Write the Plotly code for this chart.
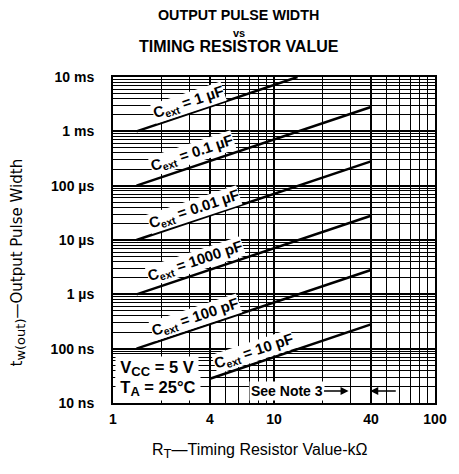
import plotly.graph_objects as go

# ---- data ----
curve_names = ["1 µF", "0.1 µF", "0.01 µF", "1000 pF", "100 pF", "10 pF"]
rt_1uF = [1.4, 14.0];   tw_1uF = [1.0e-3, 1.0e-2]
rt_01uF = [1.4, 40.0];  tw_01uF = [1.0e-4, 2.8e-3]
rt_001uF = [1.4, 40.0]; tw_001uF = [1.0e-5, 2.8e-4]
rt_1000pF = [1.4, 40.0]; tw_1000pF = [1.0e-6, 2.8e-5]
rt_100pF = [1.4, 40.0]; tw_100pF = [1.0e-7, 2.8e-6]
rt_10pF = [4.0, 40.0];  tw_10pF = [2.8e-8, 2.8e-7]

x_tick_vals = [1, 4, 10, 40, 100]
x_tick_text = ["1", "4", "10", "40", "100"]
y_tick_vals = [1e-8, 1e-7, 1e-6, 1e-5, 1e-4, 1e-3, 1e-2]
y_tick_text = ["10 ns", "100 ns", "1 µs", "10 µs", "100 µs", "1 ms", "10 ms"]

curves = [(rt_1uF, tw_1uF), (rt_01uF, tw_01uF), (rt_001uF, tw_001uF),
          (rt_1000pF, tw_1000pF), (rt_100pF, tw_100pF), (rt_10pF, tw_10pF)]

# label positions (log10 units) along each line
label_pos = [(0.47, -2.47), (0.49, -3.40), (0.505, -4.43),
             (0.51, -5.40), (0.51, -6.43), (0.875, -7.06)]

FONT = "Liberation Sans, Arial, sans-serif"

fig = go.Figure()
for (rt, tw), name in zip(curves, curve_names):
    fig.add_trace(go.Scatter(x=rt, y=tw, mode="lines", name=name,
                             line=dict(color="black", width=2.5),
                             showlegend=False, hoverinfo="skip"))

x_minor = [m * d for d in (1, 10) for m in range(2, 10)]
y_minor = [m * 10.0 ** e for e in range(-8, -2) for m in range(2, 10)]

fig.update_xaxes(type="log", range=[0, 2], tickvals=x_tick_vals, ticktext=x_tick_text,
                 showgrid=True, gridcolor="black", gridwidth=1.6,
                 minor=dict(tickvals=x_minor, showgrid=True, gridcolor="black", gridwidth=1.4),
                 showline=True, linecolor="black", linewidth=2, mirror=True,
                 ticks="", ticklabelstandoff=2, zeroline=False,
                 tickfont=dict(family=FONT, size=14, color="black", weight="bold"))
fig.update_yaxes(type="log", range=[-8, -2], tickvals=y_tick_vals, ticktext=y_tick_text,
                 showgrid=True, gridcolor="black", gridwidth=1.6,
                 minor=dict(tickvals=y_minor, showgrid=True, gridcolor="black", gridwidth=1.1),
                 showline=True, linecolor="black", linewidth=2, mirror=True,
                 ticks="", ticklabelstandoff=14, zeroline=False,
                 tickfont=dict(family=FONT, size=14, color="black", weight="bold"))

annotations = []
for name, (lx, ly) in zip(curve_names, label_pos):
    annotations.append(dict(x=lx, y=ly, xref="x", yref="y", xanchor="center", yanchor="middle",
                            text="C<sub>ext</sub> = " + name, showarrow=False,
                            textangle=-18.3, bgcolor="white", borderpad=0,
                            font=dict(family=FONT, size=15, color="black", weight="bold")))

# Conditions box: lower line first so the upper line's box is drawn on top
for txt, yy in [("T<sub><span style='font-size:13px'>A</span></sub> = 25°C", 0.045),
                ("V<sub><span style='font-size:13px'>CC</span></sub> = 5 V", 0.105)]:
    annotations.append(dict(x=0.005, y=yy, xref="x domain", yref="y domain",
                            xanchor="left", yanchor="middle", align="left",
                            text="\u2009" + txt + "\u2009", showarrow=False,
                            bgcolor="white", borderpad=1,
                            font=dict(family=FONT, size=16.5, color="black", weight="bold")))
# See Note 3 arrows
annotations.append(dict(x=1.463, y=-7.78, xref="x", yref="y", ax=-62, ay=0,
                        text="See Note 3", showarrow=True, arrowhead=2, arrowwidth=1.6,
                        arrowcolor="black", bgcolor="white",
                        font=dict(family=FONT, size=14, color="black", weight="bold")))
annotations.append(dict(x=1.598, y=-7.78, xref="x", yref="y", ax=27, ay=0,
                        text="", showarrow=True, arrowhead=2, arrowwidth=1.6,
                        arrowcolor="black"))

# Titles
for txt, yy, sz in [("OUTPUT PULSE WIDTH", 1.19, 14.3), ("vs", 1.136, 11),
                    ("TIMING RESISTOR VALUE", 1.093, 16)]:
    annotations.append(dict(x=0.39, y=yy, xref="paper", yref="paper", showarrow=False,
                            text=txt, xanchor="center", yanchor="middle",
                            font=dict(family=FONT, size=sz, color="black", weight="bold")))
# Axis titles
annotations.append(dict(x=-0.296, y=0.43, xref="paper", yref="paper", showarrow=False,
                        xanchor="center", yanchor="middle",
                        text="t<sub><span style='font-size:13px'>w(out)</span></sub>—Output Pulse Width",
                        textangle=-90,
                        font=dict(family="DejaVu Sans, sans-serif", size=15, color="black")))
annotations.append(dict(x=0.457, y=-0.148, xref="paper", yref="paper", showarrow=False,
                        xanchor="center", yanchor="middle",
                        text="R<sub><span style='font-size:13px'>T</span></sub>—Timing Resistor Value-kΩ",
                        font=dict(family=FONT, size=16, color="black")))

# page body has an 8px margin: shrink the figure so the plot lands where the reference has it
fig.update_layout(width=451, height=466, margin=dict(l=105, r=18, t=69, b=71),
                  paper_bgcolor="white", plot_bgcolor="white",
                  annotations=annotations, showlegend=False)

fig.write_html("out.html")
